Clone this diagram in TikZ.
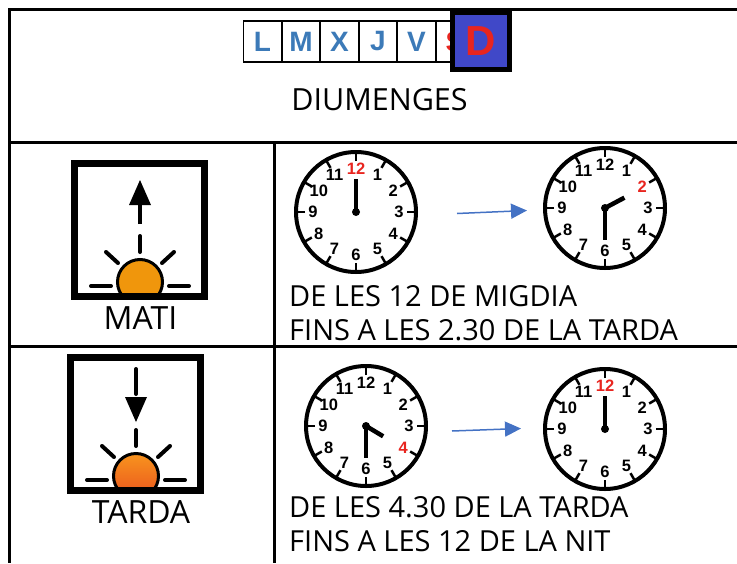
\documentclass[tikz,border=0pt]{standalone}
\usepackage{fontspec}
\setmainfont{Open Sans}
\newfontfamily\arialfont{Liberation Sans}
\usetikzlibrary{arrows.meta}

\definecolor{dayblue}{RGB}{60,122,184}
\definecolor{dayred}{RGB}{232,37,31}
\definecolor{boxblue}{RGB}{64,72,200}
\definecolor{flowblue}{RGB}{68,114,196}
\definecolor{sunmorning}{RGB}{240,150,12}
\definecolor{suntop}{RGB}{248,148,30}
\definecolor{sunbottom}{RGB}{234,84,30}

\tikzset{
  gridline/.style={line width=3pt},
  daybox/.style={draw, line width=1.5pt, fill=white, minimum width=38pt, minimum height=41pt,
    inner sep=0pt, text=dayblue, font=\arialfont\bfseries\fontsize{28}{28}\selectfont},
  todaybox/.style={draw, line width=5pt, fill=boxblue, minimum size=57pt, inner sep=0pt,
    text=dayred, font=\arialfont\bfseries\fontsize{42}{42}\selectfont},
  labeltext/.style={inner sep=0pt, font=\fontsize{29}{33.5}\selectfont},
  titletext/.style={inner sep=0pt, font=\fontsize{30.5}{30.5}\selectfont},
  icontext/.style={inner sep=0pt, font=\fontsize{32}{32}\selectfont},
  clockface/.style={circle, draw, line width=4pt, minimum size=120pt, inner sep=0pt},
  clocktick/.style={line width=2.5pt},
  clocknum/.style={inner sep=0pt, font=\arialfont\bfseries\fontsize{16.5}{16.5}\selectfont},
  clockhand/.style={line width=4.5pt},
  flow/.style={flowblue, line width=1.5pt, -{Triangle[length=16pt,width=15pt]}},
  iconline/.style={line width=4pt, line cap=round},
}

% clock: name, centre, hour angle, hour length, minute angle, red numeral
\newcommand{\drawclock}[6]{
  \node[clockface] (#1) at #2 {};
  \foreach \h in {1,...,12}{
    \pgfmathsetmacro{\ang}{90-30*\h}
    \ifnum\h=#6 \def\numcol{dayred}\else\def\numcol{black}\fi
    \draw[clocktick] (#1.center) ++(\ang:51pt) -- ++(\ang:9pt);
    \path (#1.center) ++(\ang:43pt) node[clocknum, text=\numcol] (#1-\h) {\h};
  }
  \draw[clockhand] (#1.center) -- ++(#5:32pt);
  \draw[clockhand] (#1.center) -- ++(#3:#4pt);
  \fill (#1.center) circle (4pt);
}

% sun icon: top left corner, sun fill, arrow
\newcommand{\sunicon}[3]{
  \begin{scope}[shift={#1}]
    \begin{scope}
      \clip (7,7) rectangle (130,133);
      \draw[line width=3pt, #2] (69,122) circle (22.5pt);
    \end{scope}
    \draw[line width=7pt] (3.5,3.5) rectangle (133.5,136.5);
    \draw[iconline] (20,126) -- (40,126);
    \draw[iconline] (98,126) -- (118,126);
    \draw[iconline] (35,92) -- (47,103);
    \draw[iconline] (91,103) -- (103,92);
    \draw[iconline] (69,76) -- (69,92);
    #3
  \end{scope}
}

\begin{document}
\begin{tikzpicture}[x=1pt, y=-1pt]
  \useasboundingbox (0,0) rectangle (737,563);

  % table
  \draw[gridline] (737,9) -- (9,9) -- (9,563);
  \draw[gridline] (9,142) -- (737,142);
  \draw[gridline] (9,346) -- (737,346);
  \draw[gridline] (274,142) -- (274,563);

  % days of the week
  \foreach \d [count=\i from 0] in {L,M,X,J,V}
    \node[daybox] (day-\d) at ({262.5+38.5*\i},41.5) {\d};
  \node[daybox, text=dayred] (day-S) at (455,41.5) {S};
  \node[todaybox] (day-D) at (481,41) {D};
  \node[titletext, anchor=base] (title) at (379.5,110) {DIUMENGES};

  % morning
  \sunicon{(71,160)}{fill=sunmorning}{
    \draw[line width=4pt] (69,64) -- (69,44);
    \fill (58,45) -- (69,20) -- (80,45) -- cycle;
  }
  \node[icontext, anchor=base] (mati) at (140.5,329) {MATI};

  \drawclock{noon}{(356,212)}{90}{33}{90}{12}
  \drawclock{halfthree}{(605,208)}{28}{22}{-90}{2}
  \coordinate (flow1-a) at (457,213.5);
  \coordinate (flow1-b) at (527,210.5);
  \draw[flow] (flow1-a) -- (flow1-b);
  \node[labeltext, anchor=base west, align=left] (mati-text) at (289,340)
    {DE LES 12 DE MIGDIA\\FINS A LES 2.30 DE LA TARDA};

  % afternoon
  \sunicon{(67,354)}{top color=suntop, bottom color=sunbottom}{
    \draw[iconline] (69,15) -- (69,40);
    \fill (58,43) -- (69,68) -- (80,43) -- cycle;
  }
  \node[icontext, anchor=base] (tarda) at (141,523) {TARDA};

  \drawclock{halffour}{(366,426)}{-31}{20}{-90}{4}
  \drawclock{midnight}{(605,429)}{90}{33}{90}{12}
  \coordinate (flow2-a) at (452,431);
  \coordinate (flow2-b) at (521,428.5);
  \draw[flow] (flow2-a) -- (flow2-b);
  \node[labeltext, anchor=base west, align=left] (tarda-text) at (289,551)
    {DE LES 4.30 DE LA TARDA\\FINS A LES 12 DE LA NIT};
\end{tikzpicture}
\end{document}
